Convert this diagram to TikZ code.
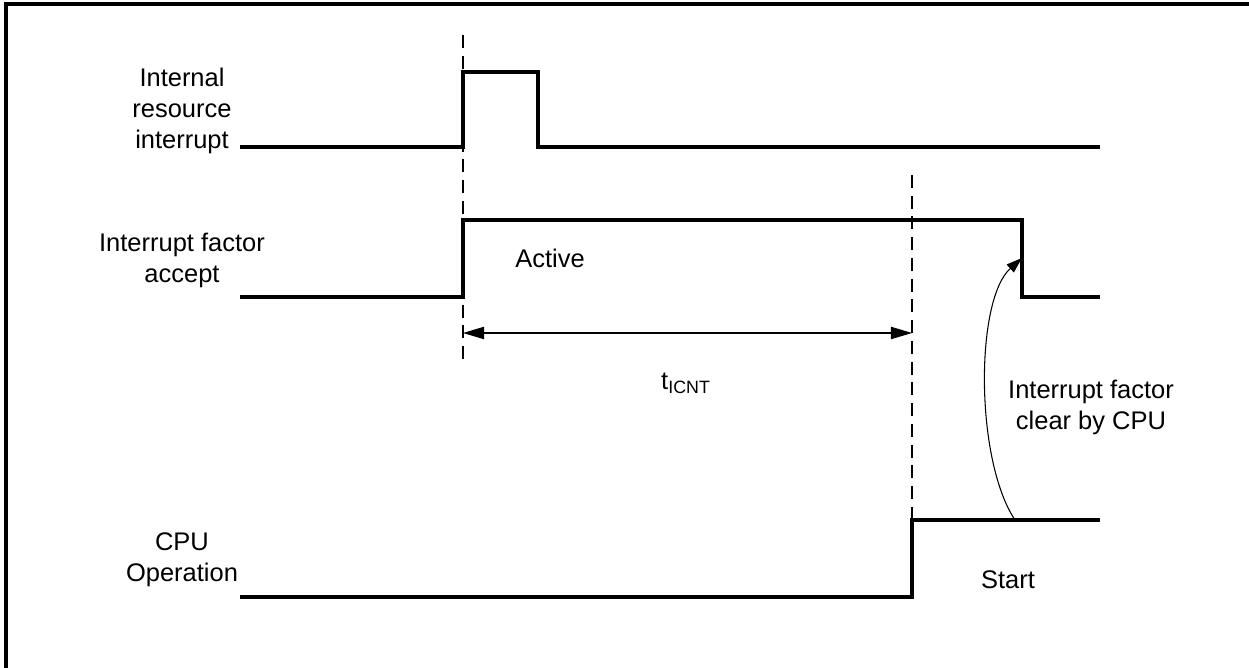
\documentclass[tikz,border=0pt]{standalone}
\usepackage{fontspec}
\setmainfont{Liberation Sans}
\usetikzlibrary{arrows.meta, positioning}

\begin{document}
\begin{tikzpicture}[
    x=0.02cm, y=-0.02cm,
    font=\fontsize{14.5}{17.6}\selectfont,
    sig/.style={line width=2pt},
    guia/.style={line width=0.7pt, dash pattern=on 7.4pt off 4.4pt},
    dimarr/.style={{Triangle[length=12pt,width=7pt]}-{Triangle[length=12pt,width=7pt]}, line width=0.6pt},
    curv/.style={-{Triangle[length=9pt,width=6pt]}, line width=0.6pt},
    lbl/.style={align=center, inner sep=0pt},
]
\useasboundingbox (0,0) rectangle (1249,668);

% ── Moldura ─────────────────────────────────────────
\draw[line width=1.8pt] (6,668) -- (6,4) -- (1249,4);

% ── Rótulos dos sinais ──────────────────────────────
\node[lbl] (lint) at (182,111) {Internal\\resource\\interrupt};
\node[lbl] (lacc) at (182,260) {Interrupt factor\\accept};
\node[lbl] (lcpu) at (182,560) {CPU\\Operation};

% ── Formas de onda ──────────────────────────────────
\draw[sig] (240,147) -- (463,147) -- (463,72) -- (538,72) -- (538,147) -- (1100,147);
\draw[sig] (240,297) -- (463,297) -- (463,220) -- (1022,220) -- (1022,297) -- (1100,297);
\draw[sig] (240,597) -- (912,597) -- (912,520) -- (1100,520);

% Linhas guia
\coordinate (g1a) at (463,35);
\coordinate (g1b) at (463,365);
\coordinate (g2a) at (912,175);
\coordinate (g2b) at (912,520);
\draw[guia] (g1a) -- (g1b);
\draw[guia] (g2a) -- (g2b);

% ── Intervalo t_ICNT ────────────────────────────────
\coordinate (dimA) at (463,333);
\coordinate (dimB) at (912,333);
\draw[dimarr] (dimA) -- (dimB);
\node (ticnt) at (686,383) {t\textsubscript{ICNT}};

% ── Textos ──────────────────────────────────────────
\node (active) at (550,258) {Active};
\node (start)  at (1008,580) {Start};
\node[lbl] (lclr) at (1091,407) {Interrupt factor\\clear by CPU};

% Seta curva CPU -> limpeza
\coordinate (cpuhi) at (1015,520);
\coordinate (accfall) at (1022,258);
\draw[curv] (cpuhi) .. controls (975,460) and (975,300) .. (accfall);

\end{tikzpicture}
\end{document}
